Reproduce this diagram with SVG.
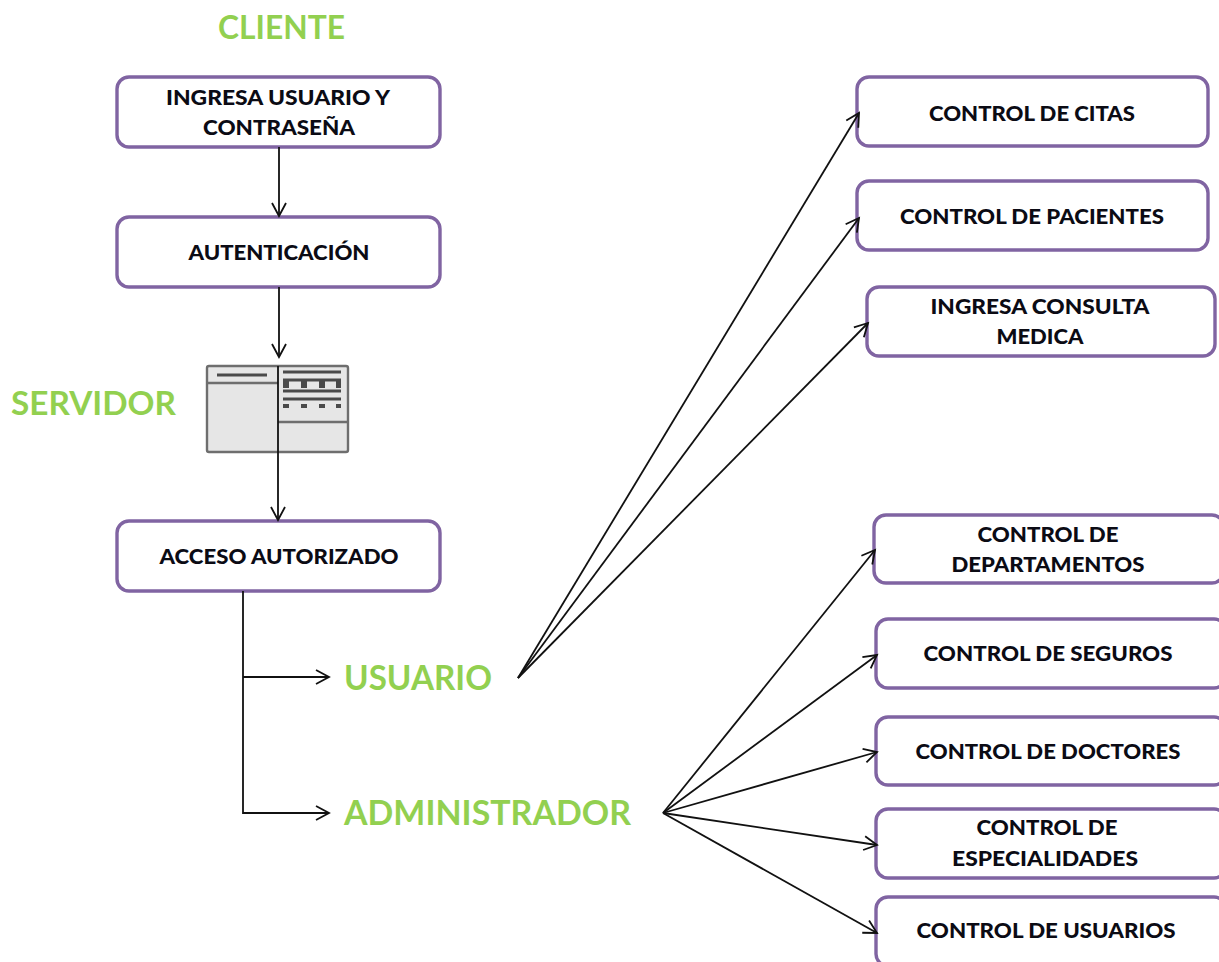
<svg xmlns="http://www.w3.org/2000/svg" width="1219" height="962" viewBox="0 0 1219 962">
<style>
.box{fill:#fff;stroke:#8064a2;stroke-width:3.4}
.t{font-family:"Lato","Carlito","Liberation Sans",sans-serif;font-weight:900;font-size:21px;fill:#0b0b14;text-anchor:middle}
.g{font-family:"Lato","Carlito","Liberation Sans",sans-serif;font-weight:700;fill:#92d050}
.c{fill:none;stroke:#111;stroke-width:1.8}
.i{fill:none;stroke:#6e6e6e;stroke-width:2.4}
.d{stroke:#4a4a4a;stroke-width:3.2}
</style>
<defs>
<marker id="a" markerUnits="userSpaceOnUse" markerWidth="18" markerHeight="18" refX="15" refY="9" orient="auto"><path d="M2 2L15 9L2 16" fill="none" stroke="#111" stroke-width="1.8"/></marker>
</defs>
<rect width="1219" height="962" fill="#fff"/>
<text class="g" x="218" y="39" font-size="32" textLength="127" lengthAdjust="spacingAndGlyphs">CLIENTE</text>
<text class="g" x="11" y="415" font-size="32" textLength="165" lengthAdjust="spacingAndGlyphs">SERVIDOR</text>
<text class="g" x="344" y="690" font-size="35" textLength="148" lengthAdjust="spacingAndGlyphs">USUARIO</text>
<text class="g" x="344" y="825" font-size="35" textLength="287" lengthAdjust="spacingAndGlyphs">ADMINISTRADOR</text>
<g id="n-ingresa"><rect class="box" x="117" y="77" width="323" height="70" rx="12"/><text class="t" x="278" y="105" textLength="224" lengthAdjust="spacingAndGlyphs">INGRESA USUARIO Y</text><text class="t" x="279" y="135" textLength="152" lengthAdjust="spacingAndGlyphs">CONTRASEÑA</text></g>
<g id="n-autenticacion"><rect class="box" x="117" y="217" width="323" height="70" rx="12"/><text class="t" x="279" y="260" textLength="181" lengthAdjust="spacingAndGlyphs">AUTENTICACIÓN</text></g>
<g id="n-servidor">
<rect x="207" y="366" width="141" height="86" rx="2" fill="#e6e6e6" stroke="#6e6e6e" stroke-width="2.4"/>
<path class="i" d="M207 383H278M278 422H348"/>
<path class="d" d="M217 375H267M283 372H341M283 380H341M283 391H341M283 399H341"/>
<path d="M283 381h6v7h-6zM301 381h6v7h-6zM319 381h6v7h-6zM336 381h5v7h-5zM283 404h6v4h-6zM301 404h6v4h-6zM319 404h6v4h-6zM336 404h5v4h-5z" fill="#4a4a4a"/>
</g>
<g id="n-acceso"><rect class="box" x="117" y="521" width="323" height="70" rx="12"/><text class="t" x="279" y="564" textLength="239" lengthAdjust="spacingAndGlyphs">ACCESO AUTORIZADO</text></g>
<g id="n-citas"><rect class="box" x="857" y="77" width="351" height="69" rx="12"/><text class="t" x="1032" y="121" textLength="206" lengthAdjust="spacingAndGlyphs">CONTROL DE CITAS</text></g>
<g id="n-pacientes"><rect class="box" x="857" y="181" width="351" height="69" rx="12"/><text class="t" x="1032" y="224" textLength="264" lengthAdjust="spacingAndGlyphs">CONTROL DE PACIENTES</text></g>
<g id="n-consulta"><rect class="box" x="867" y="287" width="348" height="69" rx="12"/><text class="t" x="1040" y="314" textLength="219" lengthAdjust="spacingAndGlyphs">INGRESA CONSULTA</text><text class="t" x="1040" y="344" textLength="87" lengthAdjust="spacingAndGlyphs">MEDICA</text></g>
<g id="n-departamentos"><rect class="box" x="874" y="515" width="350" height="68" rx="12"/><text class="t" x="1048" y="542" textLength="141" lengthAdjust="spacingAndGlyphs">CONTROL DE</text><text class="t" x="1048" y="572" textLength="193" lengthAdjust="spacingAndGlyphs">DEPARTAMENTOS</text></g>
<g id="n-seguros"><rect class="box" x="876" y="619" width="350" height="69" rx="12"/><text class="t" x="1048" y="661" textLength="249" lengthAdjust="spacingAndGlyphs">CONTROL DE SEGUROS</text></g>
<g id="n-doctores"><rect class="box" x="876" y="717" width="350" height="68" rx="12"/><text class="t" x="1048" y="759" textLength="265" lengthAdjust="spacingAndGlyphs">CONTROL DE DOCTORES</text></g>
<g id="n-especialidades"><rect class="box" x="876" y="809" width="350" height="69" rx="12"/><text class="t" x="1047" y="835" textLength="141" lengthAdjust="spacingAndGlyphs">CONTROL DE</text><text class="t" x="1045" y="866" textLength="186" lengthAdjust="spacingAndGlyphs">ESPECIALIDADES</text></g>
<g id="n-usuarios"><rect class="box" x="876" y="897" width="350" height="69" rx="12"/><text class="t" x="1046" y="938" textLength="259" lengthAdjust="spacingAndGlyphs">CONTROL DE USUARIOS</text></g>
<g id="connectors">
<path class="c" d="M279 147V216" marker-end="url(#a)"/>
<path class="c" d="M279 287V357" marker-end="url(#a)"/>
<path class="c" d="M278 366V520" marker-end="url(#a)"/>
<path class="c" d="M243 591V813H329" marker-end="url(#a)"/>
<path class="c" d="M243 677H329" marker-end="url(#a)"/>
<path class="c" d="M518 678L859 113" marker-end="url(#a)"/>
<path class="c" d="M518 678L859 218" marker-end="url(#a)"/>
<path class="c" d="M518 678L868 323" marker-end="url(#a)"/>
<path class="c" d="M663 813L875 550" marker-end="url(#a)"/>
<path class="c" d="M663 813L877 655" marker-end="url(#a)"/>
<path class="c" d="M663 813L877 752" marker-end="url(#a)"/>
<path class="c" d="M663 813L877 845" marker-end="url(#a)"/>
<path class="c" d="M663 813L877 933" marker-end="url(#a)"/>
</g>
</svg>
